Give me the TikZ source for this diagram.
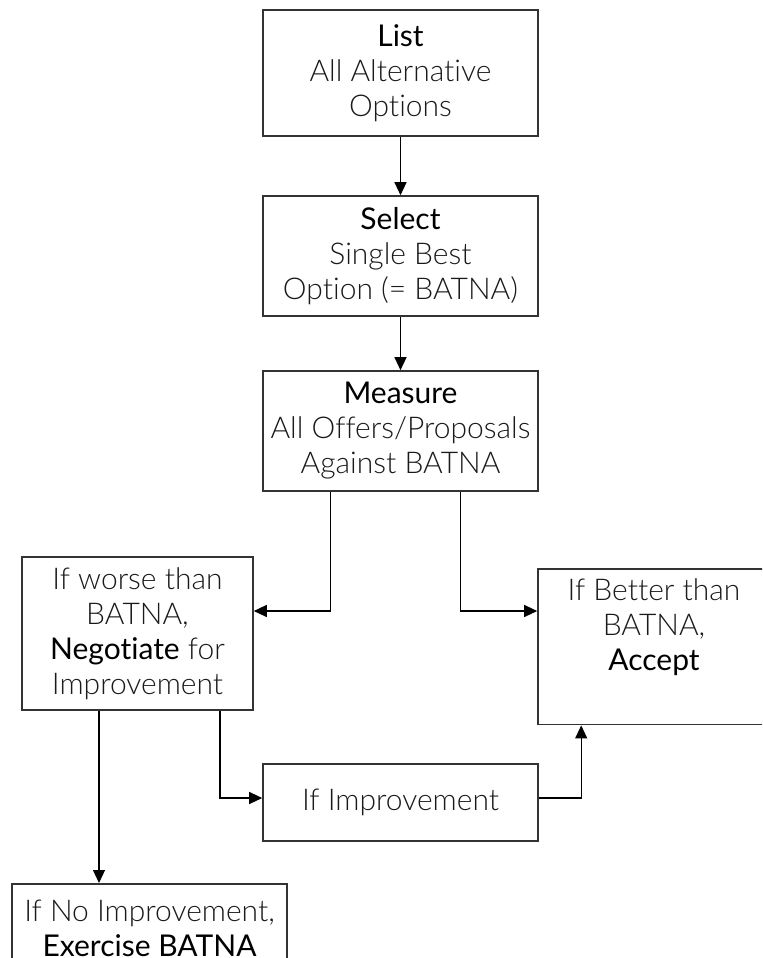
\documentclass[tikz,border=0pt]{standalone}
\usepackage{fontspec}
\setmainfont{Lato Light}[BoldFont={Lato Regular},Ligatures=NoCommon]
\usetikzlibrary{positioning,calc,arrows.meta}
\definecolor{txtgray}{HTML}{1A1A1A}
\tikzstyle{every text node part}=[font=\fontsize{15}{17.5}\selectfont]
\tikzstyle{stepbox}=[draw=black!80,line width=0.8pt,text=txtgray,align=center,inner sep=2pt,minimum width=137.5pt]
\tikzstyle{flow}=[-{Triangle[length=6.5pt,width=6pt]},line width=0.6pt]
\newcommand{\keyword}[1]{\textbf{\color{black}#1}}

\begin{document}
\begin{tikzpicture}[x=0.5pt,y=-0.5pt]
      \clip (0,0) rectangle (762,958);

      \node [stepbox,minimum height=63pt] (list) at (400.5,73) {\keyword{List}\\All Alternative\\Options};
      \node [stepbox,minimum height=60pt] (select) at (400.5,256) {\keyword{Select}\\Single Best\\Option (= BATNA)};
      \node [stepbox,minimum height=60pt] (measure) at (400.5,431) {\keyword{Measure}\\All Offers/Proposals\\Against BATNA};

      \node [stepbox,minimum width=115.5pt,minimum height=76.5pt] (worse) at (137.5,633.5) {If worse than\\BATNA,\\\keyword{Negotiate} for\\Improvement};
      \node [stepbox,minimum width=116pt,anchor=north,inner ysep=5pt,text depth=22pt] (better) at (654,568) {If Better than\\BATNA,\\\keyword{Accept}};
      \node [stepbox,minimum height=38.5pt] (improve) at (400.5,802.5) {If Improvement};
      \node [stepbox,minimum height=45pt,anchor=north,inner ysep=3pt] (exercise) at (149.5,883) {If No Improvement,\\\keyword{Exercise BATNA}};

      \draw [flow] (list) -- (select);
      \draw [flow] (select) -- (measure);
      \draw [flow] ($(measure.south)+(-70,0)$) |- ($(worse.east)+(0,-22.5)$);
      \draw [flow] ($(measure.south)+(60,0)$) |- ($(better.north west)+(0,43)$);
      \draw [flow] ($(worse.south)+(82.5,0)$) |- ($(improve.west)+(0,-4.5)$);
      \draw [flow] ($(improve.east)+(0,-4.5)$) -| ($(better.south west)+(44,0)$);
      \draw [flow] ($(worse.south)+(-38.5,0)$) -- ($(exercise.north)+(-50.5,0)$);

    \end{tikzpicture}
\end{document}
